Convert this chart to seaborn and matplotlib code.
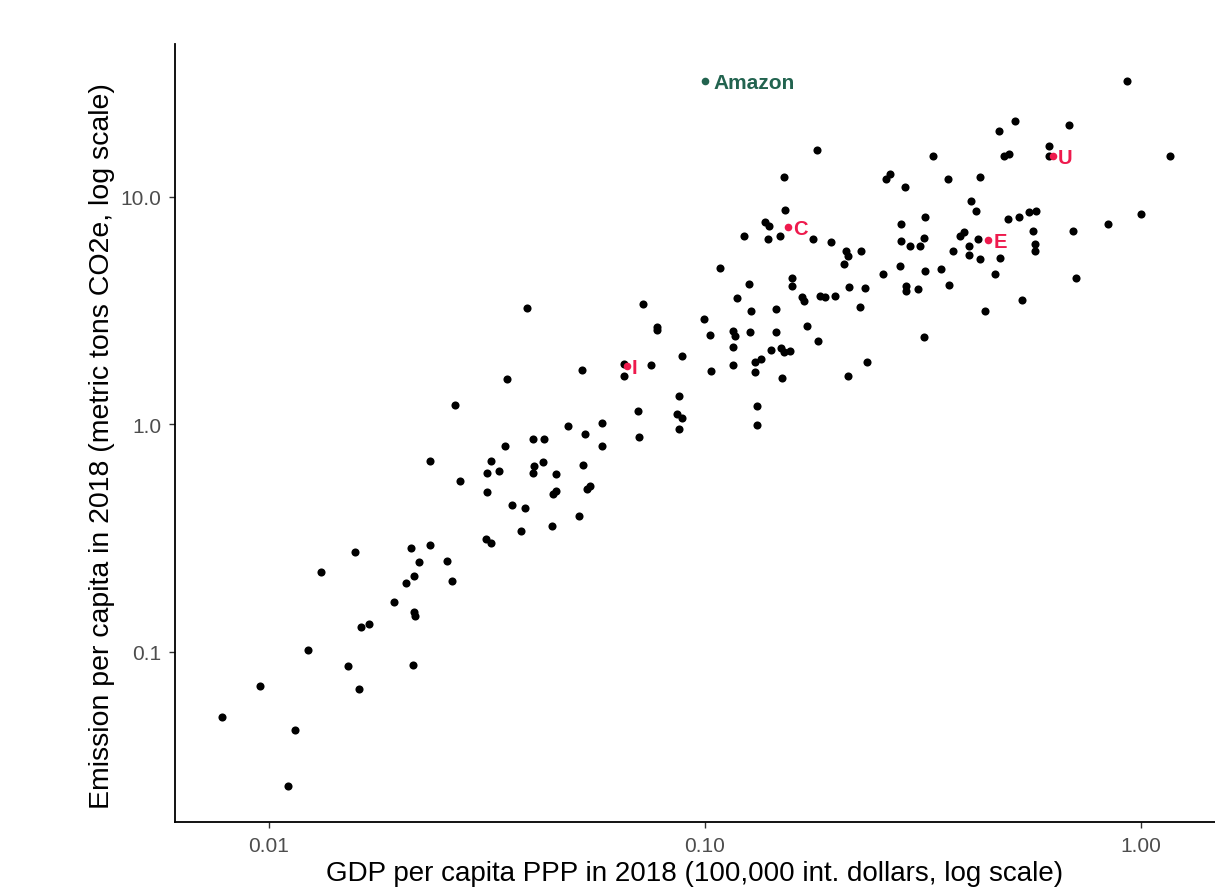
import matplotlib
matplotlib.use("Agg")
import matplotlib.pyplot as plt
import seaborn as sns
import pandas as pd

# GDP per capita PPP 2018 (100,000 int. dollars) and emissions per capita (t CO2e)
gdp = [
    0.0078, 0.00957, 0.0115, 0.0111, 0.0123, 0.0152, 0.0161, 0.0214, 0.0163, 0.0170,
    0.0194, 0.0215, 0.0217, 0.0207, 0.0216, 0.0264, 0.0158, 0.0132, 0.0212, 0.0234,
    0.0221, 0.0256, 0.0315, 0.0323, 0.0380, 0.0446, 0.0516, 0.0361, 0.0387, 0.0316,
    0.0448, 0.0455, 0.0536, 0.0545, 0.0275, 0.0234, 0.0323, 0.0316, 0.0337, 0.0407,
    0.0425, 0.0403, 0.0455, 0.0525, 0.0349, 0.0403, 0.0427, 0.0583, 0.0485, 0.0531,
    0.0580, 0.0702, 0.0706, 0.0268, 0.0353, 0.0652, 0.0391, 0.0721, 0.0522, 0.0652,
    0.0752, 0.0871, 0.0863, 0.0886, 0.0871, 0.1315, 0.1315, 0.0776, 0.0776, 0.0995,
    0.1026, 0.1159, 0.1172, 0.1159, 0.1268, 0.1276, 0.1456, 0.1456, 0.172, 0.1815,
    0.1416, 0.1493, 0.1517, 0.1567, 0.0886, 0.1032, 0.1159, 0.1303, 0.1343, 0.1303,
    0.1503, 0.2128, 0.2355, 0.1082, 0.1262, 0.1585, 0.1585, 0.1183, 0.167, 0.1687,
    0.1837, 0.1884, 0.1986, 0.2138, 0.2328, 0.227, 0.929, 0.514, 0.472, 0.684,
    0.485, 0.498, 0.615, 0.615, 1.166, 0.1807, 0.333, 0.1517, 0.2655, 0.260,
    0.288, 0.361, 0.428, 0.409, 0.419, 0.574, 0.553, 0.525, 0.495, 1.0,
    0.840, 0.698, 0.565, 0.571, 0.571, 0.1526, 0.320, 0.282, 0.1374, 0.1403,
    0.1486, 0.1395, 0.1228, 0.177, 0.1945, 0.2104, 0.2128, 0.228, 0.2085, 0.282,
    0.295, 0.311, 0.318, 0.394, 0.385, 0.423, 0.372, 0.404, 0.404, 0.428,
    0.475, 0.462, 0.709, 0.280, 0.320, 0.3475, 0.256, 0.363, 0.289, 0.289,
    0.308, 0.533, 0.439, 0.318,
]
emission = [
    0.0518, 0.0709, 0.0454, 0.0258, 0.102, 0.0867, 0.0687, 0.0877, 0.129, 0.133,
    0.166, 0.150, 0.144, 0.201, 0.216, 0.205, 0.275, 0.225, 0.286, 0.295,
    0.249, 0.251, 0.314, 0.301, 0.340, 0.358, 0.396, 0.443, 0.430, 0.505,
    0.495, 0.510, 0.520, 0.537, 0.565, 0.692, 0.692, 0.612, 0.625, 0.658,
    0.684, 0.612, 0.605, 0.664, 0.804, 0.863, 0.863, 0.804, 0.984, 0.908,
    1.016, 1.146, 0.881, 1.218, 1.585, 1.633, 3.25, 3.39, 1.737, 1.845,
    1.827, 1.334, 1.112, 1.068, 0.955, 1.206, 0.995, 2.68, 2.60, 2.91,
    2.47, 2.58, 2.45, 2.19, 2.55, 3.15, 3.22, 2.55, 2.71, 2.33,
    2.13, 2.17, 2.08, 2.10, 2.00, 1.718, 1.827, 1.883, 1.94, 1.70,
    1.60, 1.633, 1.883, 4.87, 4.15, 4.40, 4.06, 3.60, 3.63, 3.49,
    3.67, 3.63, 3.67, 4.02, 3.98, 3.28, 32.4, 21.6, 19.5, 20.7,
    15.1, 15.5, 16.8, 15.1, 15.1, 16.1, 15.1, 12.2, 12.6, 12.0,
    11.1, 12.0, 12.2, 9.6, 8.68, 8.68, 8.59, 8.17, 8.00, 8.42,
    7.61, 7.09, 7.09, 6.21, 5.79, 8.77, 8.17, 7.61, 7.76, 7.46,
    6.74, 6.54, 6.74, 6.54, 6.34, 5.79, 5.51, 5.79, 5.08, 6.41,
    6.09, 6.09, 6.61, 7.02, 6.74, 6.54, 5.79, 6.09, 5.56, 5.34,
    5.40, 4.59, 4.40, 4.98, 4.73, 4.83, 4.59, 4.10, 4.06, 3.86,
    3.94, 3.53, 3.15, 2.43,
]

# highlighted countries
hl_labels = ["C", "E", "U", "I"]
hl_gdp = [0.1549, 0.446, 0.628, 0.0662]
hl_emission = [7.38, 6.47, 15.1, 1.81]

# Amazon
amz_label = ["Amazon"]
amz_gdp = [0.100]
amz_emission = [32.4]

x_ticks = [0.01, 0.1, 1.0]
x_ticklabels = ["0.01", "0.10", "1.00"]
y_ticks = [0.1, 1.0, 10.0]
y_ticklabels = ["0.1", "1.0", "10.0"]

sns.set_theme(style="ticks")
plt.rcParams['font.family'] = ['Liberation Sans', 'DejaVu Sans']

df = pd.DataFrame({"gdp": gdp, "emission": emission})
df_hl = pd.DataFrame({"gdp": hl_gdp, "emission": hl_emission, "label": hl_labels})
df_amz = pd.DataFrame({"gdp": amz_gdp, "emission": amz_emission, "label": amz_label})

fig = plt.figure(figsize=(12.15, 8.95), dpi=100)
ax = fig.add_axes([175 / 1215, 1 - 823 / 895, 1040 / 1215, 778 / 895])

red = "#EE1A4D"
green = "#22634F"

sns.scatterplot(data=df, x="gdp", y="emission", color="black", s=34,
                linewidth=0, ax=ax, legend=False)
sns.scatterplot(data=df_hl, x="gdp", y="emission", color=red, s=30,
                linewidth=0, ax=ax, legend=False)
sns.scatterplot(data=df_amz, x="gdp", y="emission", color=green, s=30,
                linewidth=0, ax=ax, legend=False)

for _, r in df_hl.iterrows():
    ax.annotate(r["label"], (r["gdp"], r["emission"]), xytext=(4, -1),
                textcoords="offset points", ha="left", va="center",
                color=red, fontsize=14.5, fontweight="bold")
for _, r in df_amz.iterrows():
    ax.annotate(r["label"], (r["gdp"], r["emission"]), xytext=(6, -1),
                textcoords="offset points", ha="left", va="center",
                color=green, fontsize=15, fontweight="bold")

ax.set_xscale("log")
ax.set_yscale("log")
ax.set_xlim(0.0061, 1.48)
ax.set_ylim(0.0179, 47)
ax.set_xticks(x_ticks)
ax.set_xticklabels(x_ticklabels)
ax.set_yticks(y_ticks)
ax.set_yticklabels(y_ticklabels)
ax.minorticks_off()

ax.tick_params(axis="both", colors="#333333", labelcolor="#4D4D4D",
               labelsize=15, length=4, width=1)
ax.tick_params(axis="x", pad=6)
ax.tick_params(axis="y", pad=6)

for side in ["top", "right"]:
    ax.spines[side].set_visible(False)
for side in ["left", "bottom"]:
    ax.spines[side].set_color("black")
    ax.spines[side].set_linewidth(1.3)

ax.set_xlabel("GDP per capita PPP in 2018 (100,000 int. dollars, log scale)",
              fontsize=20, color="black", labelpad=4)
ax.set_ylabel("Emission per capita in 2018 (metric tons CO2e, log scale)",
              fontsize=20.5, color="black", labelpad=4)
ax.yaxis.set_label_coords(-0.058, 0.485)

fig.savefig("out.png", dpi=100)
